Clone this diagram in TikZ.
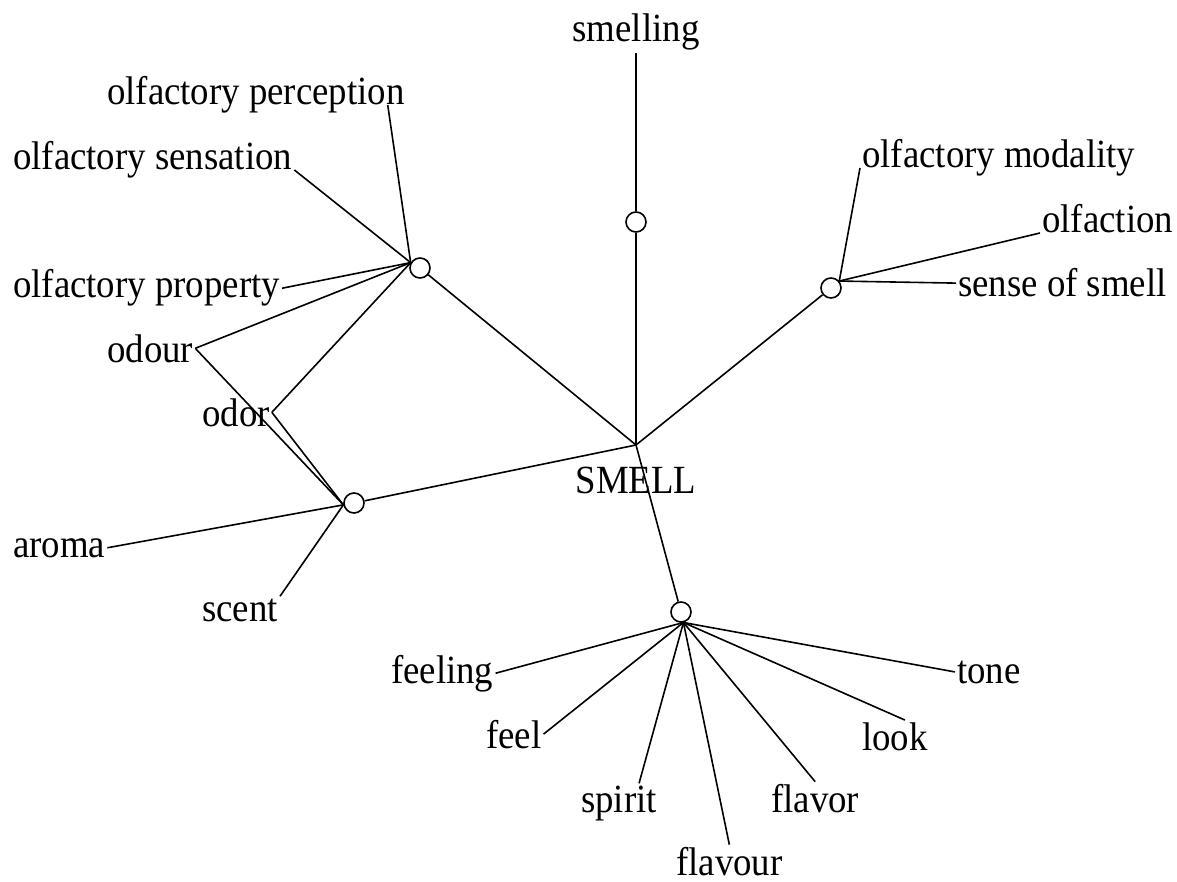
\documentclass[tikz,border=0pt]{standalone}
\usepackage{fontspec}
\setmainfont{Liberation Serif}[FakeStretch=0.92]

\tikzset{
  word/.style={inner sep=2pt,font=\fontsize{40}{48}\selectfont},
  sense/.style={circle,draw,fill=white,minimum size=20pt,inner sep=0pt,line width=1.6pt},
  link/.style={line width=1.6pt}
}

\begin{document}
\begin{tikzpicture}[x=1pt,y=-1pt]
\useasboundingbox (0,0) rectangle (1177,882);

% centre and sense circles
\coordinate (hub) at (636,445);
\node[word,anchor=base] (smell) at (636,493) {SMELL};
\node[sense] (s1) at (636,222) {};
\node[sense] (s2) at (420,268) {};
\node[sense] (s3) at (354,503) {};
\node[sense] (s4) at (831,288) {};
\node[sense] (s5) at (681,612) {};

% words
\node[word,anchor=base] (smelling) at (636,42) {smelling};
\node[word,anchor=base west] (perception) at (105,105) {olfactory perception};
\node[word,anchor=base west] (sensation) at (11,170) {olfactory sensation};
\node[word,anchor=base west] (property) at (11,298) {olfactory property};
\node[word,anchor=base west] (odour) at (105,362) {odour};
\node[word,anchor=base west] (odor) at (200,426) {odor};
\node[word,anchor=base west] (aroma) at (11,557) {aroma};
\node[word,anchor=base west] (scent) at (200,621) {scent};
\node[word,anchor=base west] (modality) at (860,168) {olfactory modality};
\node[word,anchor=base west] (olfaction) at (1040,233) {olfaction};
\node[word,anchor=base west] (smellsense) at (956,297) {sense of smell};
\node[word,anchor=base west] (feeling) at (389,683) {feeling};
\node[word,anchor=base west] (feel) at (484,748) {feel};
\node[word,anchor=base west] (spirit) at (579,812) {spirit};
\node[word,anchor=base west] (flavour) at (674,875) {flavour};
\node[word,anchor=base west] (flavor) at (769,812) {flavor};
\node[word,anchor=base west] (look) at (860,750) {look};
\node[word,anchor=base west] (tone) at (955,683) {tone};

% hub to senses
\foreach \s in {s1,s2,s3,s4,s5}
  \draw[link] (hub) -- (\s);
\draw[link] (s1) -- (smelling.south);

% words of each sense
\draw[link] (s2.150) -- ([xshift=-19pt]perception.base east);
\foreach \w/\a in {sensation/base east,property/east,odour/east,odor/east}
  \draw[link] (s2.150) -- (\w.\a);
\foreach \w/\a in {odour/east,odor/east,aroma/east,scent/north east}
  \draw[link] (s3.190) -- (\w.\a);
\foreach \w/\a in {modality/base west,olfaction/base west,smellsense/west}
  \draw[link] (s4.40) -- (\w.\a);
\foreach \w/\a in {feeling/east,feel/east,flavour/north,flavor/north,tone/west}
  \draw[link] (s5.-77) -- (\w.\a);
\draw[link] (s5.-77) -- ([xshift=-20pt]spirit.north east);
\draw[link] (s5.-77) -- ([xshift=10pt]look.north);

\end{tikzpicture}
\end{document}
